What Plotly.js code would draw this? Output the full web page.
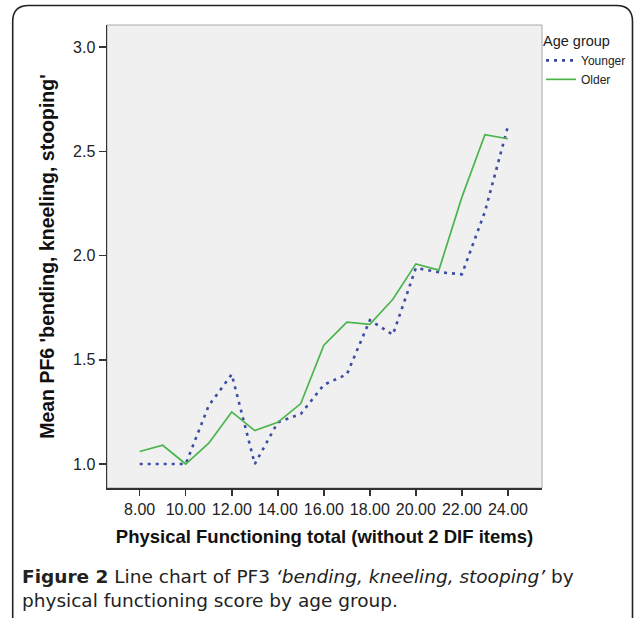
<!DOCTYPE html>
<html>
<head>
<meta charset="utf-8">
<script src="https://cdn.plot.ly/plotly-3.0.1.min.js"></script>
<style>html,body{margin:0;padding:0;background:#fff;} #chart{width:634px;height:618px;}</style>
</head>
<body>
<div id="chart"></div>
<script>
// Physical Functioning total (without 2 DIF items)
var pfTotal = [8, 9, 10, 11, 12, 13, 14, 15, 16, 17, 18, 19, 20, 21, 22, 23, 24];
// Mean PF6 by age group
var younger = [1.00, 1.00, 1.00, 1.28, 1.43, 1.00, 1.20, 1.24, 1.38, 1.43, 1.69, 1.62, 1.94, 1.92, 1.91, 2.21, 2.62];
var older   = [1.06, 1.09, 1.00, 1.10, 1.25, 1.16, 1.20, 1.29, 1.57, 1.68, 1.67, 1.79, 1.96, 1.93, 2.28, 2.58, 2.56];
var xTickVals = [8, 10, 12, 14, 16, 18, 20, 22, 24];
var xTickText = ['8.00', '10.00', '12.00', '14.00', '16.00', '18.00', '20.00', '22.00', '24.00'];
var yTickVals = [1.0, 1.5, 2.0, 2.5, 3.0];
var yTickText = ['1.0', '1.5', '2.0', '2.5', '3.0'];
var seriesNames = ['Younger', 'Older'];

var W = 634, H = 618;
var mL = 107, mR = 92, mT = 25, mB = 130;
var pw = W - mL - mR, ph = H - mT - mB;
function px(x) { return (x - mL) / pw; }
function py(y) { return (H - mB - y) / ph; }

// outer rounded frame
var fl = px(12.7), fr = px(632.5), ft = py(5.5), fb = py(625);
var rx = 16 / pw, ry = 16 / ph;
var framePath = 'M ' + fl + ',' + fb + ' L ' + fl + ',' + (ft - ry) +
  ' Q ' + fl + ',' + ft + ' ' + (fl + rx) + ',' + ft +
  ' L ' + (fr - rx) + ',' + ft +
  ' Q ' + fr + ',' + ft + ' ' + fr + ',' + (ft - ry) +
  ' L ' + fr + ',' + fb;

var traces = [
  {x: pfTotal, y: younger, name: seriesNames[0], type: 'scatter', mode: 'lines',
   line: {color: '#3d4da3', width: 2.6, dash: '3px,5px'}},
  {x: pfTotal, y: older, name: seriesNames[1], type: 'scatter', mode: 'lines',
   line: {color: '#4cb44c', width: 1.7}}
];

var sans = 'Liberation Sans, Arial, sans-serif';
var layout = {
  width: W, height: H,
  margin: {l: mL, r: mR, t: mT, b: mB, pad: 0, autoexpand: false},
  paper_bgcolor: '#ffffff',
  plot_bgcolor: '#f0f0f0',
  showlegend: true,
  legend: {
    xref: 'container', yref: 'container',
    x: 541 / W, y: 1 - 27 / H, xanchor: 'left', yanchor: 'top',
    bgcolor: 'rgba(0,0,0,0)', borderwidth: 0,
    itemwidth: 30, tracegroupgap: 0,
    font: {family: sans, size: 12, color: '#222'},
    title: {text: 'Age group', font: {family: sans, size: 14.5, color: '#222'}}
  },
  xaxis: {
    range: [6.58, 25.48], tickvals: xTickVals, ticktext: xTickText, automargin: false,
    ticks: 'outside', ticklen: 6, tickwidth: 1.5, tickcolor: '#333',
    showline: true, linecolor: '#333', linewidth: 1.5, showgrid: false, zeroline: false,
    tickfont: {family: 'Liberation Sans Narrow, Arial Narrow, sans-serif', size: 16, color: '#222'},
    title: {text: 'Physical Functioning total (without 2 DIF items)', standoff: 13,
            font: {family: sans, size: 18.5, color: '#111', weight: 'bold'}}
  },
  yaxis: {
    range: [0.885, 3.1056], tickvals: yTickVals, ticktext: yTickText, automargin: false,
    ticks: 'outside', ticklen: 7, tickwidth: 1.5, tickcolor: '#333',
    showline: true, linecolor: '#333', linewidth: 1.5, showgrid: false, zeroline: false,
    tickfont: {family: sans, size: 16, color: '#222'},
    title: {text: "Mean PF6 'bending, kneeling, stooping'", standoff: 13,
            font: {family: sans, size: 19.5, color: '#111', weight: 'bold'}}
  },
  shapes: [
    {type: 'rect', xref: 'paper', yref: 'paper', x0: 0, x1: 1, y0: 0, y1: 1,
     line: {color: '#a8a8a8', width: 1}, layer: 'below'},
    {type: 'path', xref: 'paper', yref: 'paper', path: framePath,
     line: {color: '#222', width: 1.6}}
  ],
  annotations: [
    {xref: 'paper', yref: 'paper', x: px(20), y: py(564), xanchor: 'left', yanchor: 'top',
     align: 'left', showarrow: false,
     font: {family: 'DejaVu Sans, sans-serif', size: 18.5, color: '#222'},
     text: "<b>Figure 2</b> Line chart of PF3 <i>\u2018bending, kneeling, stooping\u2019</i> by<br>physical functioning score by age group."}
  ]
};

Plotly.newPlot('chart', traces, layout, {displayModeBar: false, staticPlot: true});
</script>
</body>
</html>
